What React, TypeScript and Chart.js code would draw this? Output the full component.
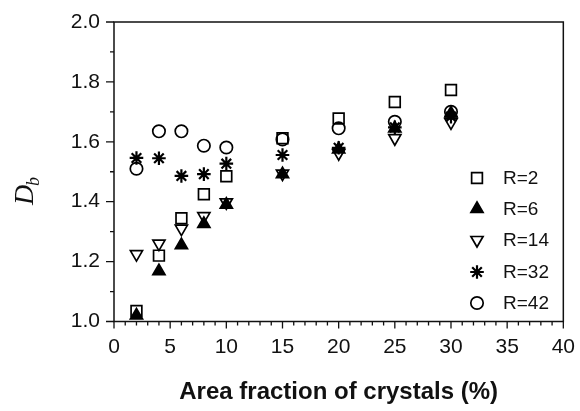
import React, { useEffect, useRef } from "react";
import { Chart, registerables } from "chart.js";
import { drawPoint } from "chart.js/helpers";

Chart.register(...registerables);

const xValues = [2, 4, 6, 8, 10, 15, 20, 25, 30];
const seriesLabels = ["R=2", "R=6", "R=14", "R=32", "R=42"];
const r2 = [1.035, 1.22, 1.345, 1.425, 1.485, 1.612, 1.678, 1.733, 1.773];
const r6 = [1.02, 1.168, 1.255, 1.326, 1.39, 1.492, 1.575, 1.645, 1.695];
const r14 = [1.225, 1.26, 1.31, 1.352, 1.398, 1.494, 1.562, 1.612, 1.665];
const r32 = [1.546, 1.545, 1.486, 1.492, 1.527, 1.556, 1.58, 1.648, 1.684];
const r42 = [1.51, 1.635, 1.635, 1.587, 1.581, 1.608, 1.645, 1.667, 1.7];
const xTicks = [0, 5, 10, 15, 20, 25, 30, 35, 40];
const yTicks = [1.0, 1.2, 1.4, 1.6, 1.8, 2.0];

const styles = [
  { pointStyle: "rect", radius: 7.6, rotation: 0, fill: "rgba(0,0,0,0)" },
  { pointStyle: "triangle", radius: 7, rotation: 0, fill: "#000" },
  { pointStyle: "triangle", radius: 7, rotation: 180, fill: "rgba(0,0,0,0)" },
  { pointStyle: "star", radius: 6.8, rotation: 0, fill: "#000" },
  { pointStyle: "circle", radius: 6.2, rotation: 0, fill: "rgba(0,0,0,0)" },
];

const allSeries = [r2, r6, r14, r32, r42];

const framePlugin = {
  id: "frame",
  afterDraw(chart: any) {
    const { ctx, chartArea } = chart;
    const xs = chart.scales.x;
    const ys = chart.scales.y;
    ctx.save();
    ctx.strokeStyle = "#111";
    ctx.lineWidth = 1.5;
    ctx.strokeRect(chartArea.left, chartArea.top, chartArea.right - chartArea.left, chartArea.bottom - chartArea.top);
    ctx.lineWidth = 1.3;
    ctx.beginPath();
    for (let v = 0; v <= 40; v += 1) {
      const px = xs.getPixelForValue(v);
      const len = v % 5 === 0 ? 7 : 4;
      ctx.moveTo(px, chartArea.bottom);
      ctx.lineTo(px, chartArea.bottom + len);
    }
    for (let i = 0; i <= 10; i++) {
      const v = 1 + i * 0.1;
      const py = ys.getPixelForValue(v);
      const len = i % 2 === 0 ? 8 : 4;
      ctx.moveTo(chartArea.left, py);
      ctx.lineTo(chartArea.left - len, py);
    }
    ctx.stroke();

    ctx.fillStyle = "#111";
    ctx.translate(33, 190);
    ctx.rotate(-Math.PI / 2);
    ctx.textBaseline = "alphabetic";
    ctx.textAlign = "left";
    ctx.font = "italic 28px 'Liberation Serif', 'DejaVu Serif', serif";
    const dW = ctx.measureText("D").width;
    ctx.fillText("D", -dW / 2 - 5, 0);
    ctx.font = "italic 18px 'Liberation Serif', 'DejaVu Serif', serif";
    ctx.fillText("b", dW / 2 - 6, 6);
    ctx.restore();

    ctx.save();
    const rowsY = [178, 209, 240, 272, 303];
    chart.data.datasets.forEach((ds: any, i: number) => {
      const y = rowsY[i];
      ctx.strokeStyle = "#000";
      ctx.fillStyle = styles[i].fill;
      ctx.lineWidth = ds.pointBorderWidth;
      drawPoint(ctx, { pointStyle: styles[i].pointStyle, radius: styles[i].radius, rotation: styles[i].rotation, borderWidth: ds.pointBorderWidth } as any, 477, y);
      ctx.fillStyle = "#111";
      ctx.font = "19px 'Liberation Sans', Arial, sans-serif";
      ctx.textBaseline = "middle";
      ctx.textAlign = "left";
      ctx.fillText(ds.label, 503, y + 1);
    });
    ctx.restore();
  },
};

export default function App() {
  const ref = useRef<HTMLCanvasElement | null>(null);
  useEffect(() => {
    if (!ref.current) return;
    const datasets = allSeries.map((vals, i) => ({
      label: seriesLabels[i],
      data: xValues.map((x, j) => ({ x, y: vals[j] })),
      showLine: false,
      pointStyle: styles[i].pointStyle,
      pointRadius: styles[i].radius,
      pointHoverRadius: styles[i].radius,
      pointRotation: styles[i].rotation,
      pointBackgroundColor: styles[i].fill,
      backgroundColor: styles[i].fill,
      pointBorderColor: "#000",
      borderColor: "#000",
      pointBorderWidth: i === 3 ? 2.2 : 1.7,
      clip: false as any,
    }));
    const chart = new Chart(ref.current, {
      type: "scatter",
      data: { datasets },
      options: {
        animation: false,
        responsive: false,
        maintainAspectRatio: false,
        layout: { padding: { top: 22, right: 15, left: 0, bottom: 0 } },
        plugins: { legend: { display: false }, tooltip: { enabled: false } },
        scales: {
          x: {
            type: "linear",
            min: 0,
            max: 40,
            afterFit: (s: any) => { s.height = 89.5; },
            afterBuildTicks: (s: any) => { s.ticks = xTicks.map((v) => ({ value: v })); },
            ticks: {
              color: "#111",
              font: { family: "'Liberation Sans', Arial, sans-serif", size: 21 },
              padding: 5,
              maxRotation: 0,
              callback: (v: any) => String(v),
            },
            grid: { display: true, drawOnChartArea: false, drawTicks: true, tickLength: 8, color: "rgba(0,0,0,0)" },
            border: { display: false },
            title: {
              display: true,
              text: "Area fraction of crystals (%)",
              color: "#111",
              font: { family: "'Liberation Sans', Arial, sans-serif", size: 24, weight: "bold" },
              padding: { top: 0, bottom: 4 },
            },
          },
          y: {
            type: "linear",
            min: 1,
            max: 2,
            afterFit: (s: any) => { s.width = 114; },
            afterBuildTicks: (s: any) => { s.ticks = yTicks.map((v) => ({ value: v })); },
            ticks: {
              color: "#111",
              font: { family: "'Liberation Sans', Arial, sans-serif", size: 21 },
              padding: 6,
              callback: (v: any) => Number(v).toFixed(1),
            },
            grid: { display: true, drawOnChartArea: false, drawTicks: true, tickLength: 8, color: "rgba(0,0,0,0)" },
            border: { display: false },
          },
        },
      },
      plugins: [framePlugin],
    });
    return () => chart.destroy();
  }, []);
  return (
    <div style={{ position: "fixed", left: 0, top: 0, width: 580, height: 411, background: "#fff" }}>
      <canvas ref={ref} width={580} height={411} style={{ width: 580, height: 411 }} />
    </div>
  );
}
